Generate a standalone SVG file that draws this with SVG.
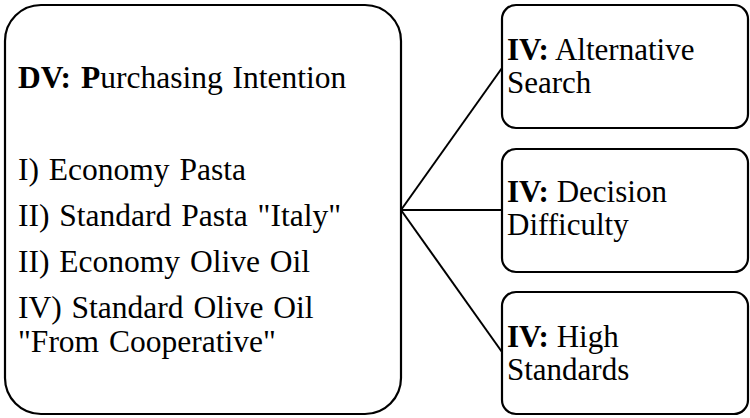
<svg xmlns="http://www.w3.org/2000/svg" width="750" height="418" viewBox="0 0 750 418">
<style>
.box{fill:#fff;stroke:#000;stroke-width:2.2}
.t{font-size:31px;fill:#000}
.l{font-size:31.5px;word-spacing:2px}
.b{font-weight:bold}
.c{stroke:#000;stroke-width:2;fill:none}
</style>
<rect width="750" height="418" fill="#fff"/>
<g id="connectors">
<line class="c" x1="401" y1="210" x2="502" y2="68"/>
<line class="c" x1="401" y1="210" x2="502" y2="210"/>
<line class="c" x1="401" y1="210" x2="502" y2="352"/>
</g>
<g font-family="Liberation Serif, Times New Roman, Times, DejaVu Serif, serif">
<g id="dv">
<rect class="box" x="5" y="5" width="396" height="409" rx="36"/>
<text class="t l" x="18" y="88"><tspan class="b">DV: P</tspan>urchasing Intention</text>
<text class="t l" x="18" y="180">I) Economy Pasta</text>
<text class="t l" x="18" y="226">II) Standard Pasta "Italy"</text>
<text class="t l" x="18" y="272">II) Economy Olive Oil</text>
<text class="t l" x="18" y="318">IV) Standard Olive Oil</text>
<text class="t l" x="18" y="352">"From Cooperative"</text>
</g>
<g id="iv1">
<rect class="box" x="502" y="5" width="246" height="123" rx="14"/>
<text class="t" x="507" y="60"><tspan class="b">IV:</tspan> Alternative</text>
<text class="t" x="507" y="93">Search</text>
</g>
<g id="iv2">
<rect class="box" x="502" y="149" width="246" height="123" rx="14"/>
<text class="t" x="507" y="202"><tspan class="b">IV:</tspan> Decision</text>
<text class="t" x="507" y="235">Difficulty</text>
</g>
<g id="iv3">
<rect class="box" x="502" y="292" width="246" height="122" rx="14"/>
<text class="t" x="507" y="347"><tspan class="b">IV:</tspan> High</text>
<text class="t" x="507" y="380">Standards</text>
</g>
</g>
</svg>
